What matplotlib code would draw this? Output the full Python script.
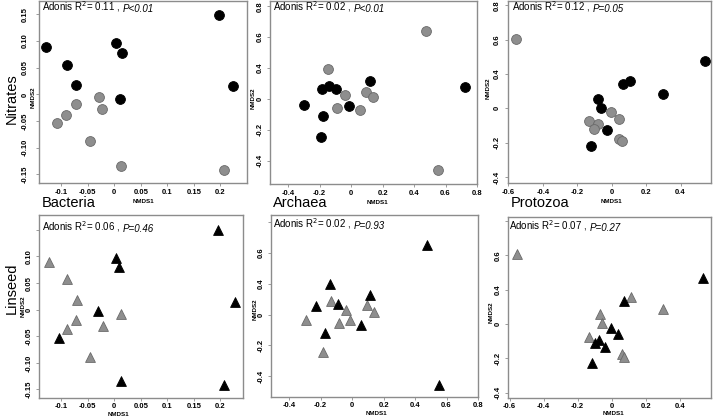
import matplotlib
matplotlib.use("Agg")
import matplotlib.pyplot as plt

# ---- data (NMDS coordinates) ----
groups = ["Bacteria", "Archaea", "Protozoa"]
diets = ["Nitrates", "Linseed"]

adonis_r2 = ["0.11", "0.02", "0.12", "0.06", "0.02", "0.07"]
adonis_p = ["P<0.01", "P<0.01", "P=0.05", "P=0.46", "P=0.93", "P=0.27"]

# Bacteria / Nitrates
bac_nit_black_x = [-0.129, -0.090, -0.072, 0.003, 0.014, 0.011, 0.197, 0.224]
bac_nit_black_y = [0.088, 0.056, 0.018, 0.097, 0.078, -0.008, 0.149, 0.016]
bac_nit_grey_x = [-0.109, -0.091, -0.072, -0.029, -0.024, -0.046, 0.012, 0.206]
bac_nit_grey_y = [-0.054, -0.038, -0.018, -0.005, -0.028, -0.088, -0.134, -0.141]

# Archaea / Nitrates
arc_nit_black_x = [-0.299, -0.183, -0.141, -0.095, 0.120, -0.015, -0.181, -0.189, 0.726]
arc_nit_black_y = [-0.041, 0.065, 0.084, 0.065, 0.114, -0.045, -0.112, -0.245, 0.075]
arc_nit_grey_x = [-0.147, -0.042, -0.091, 0.095, 0.141, 0.053, 0.474, 0.552]
arc_nit_grey_y = [0.191, 0.026, -0.056, 0.045, 0.011, -0.071, 0.439, -0.458]

# Protozoa / Nitrates
pro_nit_black_x = [-0.078, -0.062, 0.068, 0.107, 0.301, 0.540, -0.029, -0.120]
pro_nit_black_y = [0.056, 0.004, 0.139, 0.159, 0.083, 0.273, -0.126, -0.217]
pro_nit_grey_x = [-0.553, -0.132, -0.082, -0.101, -0.006, 0.043, 0.043, 0.058]
pro_nit_grey_y = [0.406, -0.073, -0.089, -0.120, -0.023, -0.060, -0.178, -0.190]

# Bacteria / Linseed
bac_lin_black_x = [0.196, 0.003, 0.009, -0.030, -0.104, 0.013, 0.228, 0.208]
bac_lin_black_y = [0.149, 0.097, 0.080, -0.003, -0.053, -0.134, 0.014, -0.141]
bac_lin_grey_x = [-0.124, -0.089, -0.070, -0.072, -0.089, -0.022, 0.012, -0.045]
bac_lin_grey_y = [0.089, 0.058, 0.018, -0.019, -0.036, -0.030, -0.009, -0.088]

# Archaea / Linseed
arc_lin_black_x = [0.478, 0.552, -0.143, -0.232, -0.091, 0.114, 0.057, -0.175]
arc_lin_black_y = [0.452, -0.461, 0.198, 0.057, 0.067, 0.126, -0.070, -0.120]
arc_lin_grey_x = [-0.295, -0.133, -0.038, -0.086, -0.011, 0.095, 0.137, -0.185]
arc_lin_grey_y = [-0.037, 0.089, 0.028, -0.054, -0.037, 0.061, 0.017, -0.243]

# Protozoa / Linseed
pro_lin_black_x = [0.073, -0.004, 0.035, -0.077, -0.100, -0.038, -0.119, 0.535]
pro_lin_black_y = [0.135, -0.025, -0.058, -0.093, -0.112, -0.135, -0.228, 0.267]
pro_lin_grey_x = [-0.558, 0.110, 0.298, -0.071, -0.058, -0.135, 0.062, 0.071]
pro_lin_grey_y = [0.410, 0.155, 0.087, 0.058, 0.004, -0.077, -0.174, -0.190]

# tick values and their printed labels
bac_x_ticks = [-0.1, -0.05, 0, 0.05, 0.1, 0.15, 0.2]
bac_x_labels = ["-0.1", "-0.05", "0", "0.05", "0.1", "0.15", "0.2"]
bac_y_ticks = [-0.15, -0.10, -0.05, 0, 0.05, 0.10, 0.15]
bac_y_labels_top = ["-0.15", "-0.10", "-0.05", "0", "0.05", "0.10", "0.15"]
bac_y_labels_bottom = ["-0.15", "-0.10", "-0.05", "0", "0.05", "0.10", ""]
arc_x_ticks = [-0.4, -0.2, 0, 0.2, 0.4, 0.6, 0.8]
arc_x_labels = ["-0.4", "-0.2", "0", "0.2", "0.4", "0.6", "0.8"]
pro_x_ticks = [-0.6, -0.4, -0.2, 0, 0.2, 0.4]
pro_x_labels = ["-0.6", "-0.4", "-0.2", "0", "0.2", "0.4"]
ord_y_ticks = [-0.4, -0.2, 0, 0.2, 0.4, 0.6]
ord_y_labels_top = ["-0.4", "-0.2", "0", "0.4", "0.6", "0.8"]
ord_y_labels_bottom = ["-0.4", "-0.2", "0", "0.4", "0.6", ""]

W, H = 715, 419
FRAME = "#8c8c8c"
GREY = "#8e8e8e"

panels = [
    # pixel box (left, right, top, bottom), limits, data, marker, ticks, label spots
    dict(box=(39, 247, 1, 183), xlim=(-0.142, 0.250), ylim=(-0.166, 0.175),
         black=(bac_nit_black_x, bac_nit_black_y), grey=(bac_nit_grey_x, bac_nit_grey_y),
         marker="o", xt=(bac_x_ticks, bac_x_labels), yt=(bac_y_ticks, bac_y_labels_top),
         ylab=(-0.014, 0.47), xlab=(0.5, -0.09), ypad=5, xpad=1.5, stat=(3, 7)),
    dict(box=(270, 477, 1, 184), xlim=(-0.516, 0.789), ylim=(-0.551, 0.634),
         black=(arc_nit_black_x, arc_nit_black_y), grey=(arc_nit_grey_x, arc_nit_grey_y),
         marker="o", xt=(arc_x_ticks, arc_x_labels), yt=(ord_y_ticks, ord_y_labels_top),
         ylab=(-0.07, 0.47), xlab=(0.52, -0.09), ypad=2, xpad=1.5, stat=(3, 7)),
    dict(box=(508, 711, 1, 183), xlim=(-0.602, 0.577), ylim=(-0.435, 0.625),
         black=(pro_nit_black_x, pro_nit_black_y), grey=(pro_nit_grey_x, pro_nit_grey_y),
         marker="o", xt=(pro_x_ticks, pro_x_labels), yt=(ord_y_ticks, ord_y_labels_top),
         ylab=(-0.086, 0.52), xlab=(0.51, -0.09), ypad=3, xpad=1.5, stat=(4, 7)),
    dict(box=(39, 243, 215, 398), xlim=(-0.142, 0.243), ylim=(-0.166, 0.178),
         black=(bac_lin_black_x, bac_lin_black_y), grey=(bac_lin_grey_x, bac_lin_grey_y),
         marker="^", xt=(bac_x_ticks, bac_x_labels), yt=(bac_y_ticks, bac_y_labels_bottom),
         ylab=(-0.066, 0.5), xlab=(0.39, -0.074), ypad=2, xpad=0.8, stat=(3, 13)),
    dict(box=(271, 478, 215, 397), xlim=(-0.516, 0.794), ylim=(-0.537, 0.648),
         black=(arc_lin_black_x, arc_lin_black_y), grey=(arc_lin_grey_x, arc_lin_grey_y),
         marker="^", xt=(arc_x_ticks, arc_x_labels), yt=(ord_y_ticks, ord_y_labels_bottom),
         ylab=(-0.065, 0.48), xlab=(0.51, -0.078), ypad=2, xpad=0.8, stat=(2, 10)),
    dict(box=(508, 711, 217, 398), xlim=(-0.610, 0.583), ylim=(-0.431, 0.623),
         black=(pro_lin_black_x, pro_lin_black_y), grey=(pro_lin_grey_x, pro_lin_grey_y),
         marker="^", xt=(pro_x_ticks, pro_x_labels), yt=(ord_y_ticks, ord_y_labels_bottom),
         ylab=(-0.071, 0.475), xlab=(0.52, -0.074), ypad=2, xpad=0.8, stat=(1, 10)),
]

tick_font = ["Liberation Sans Narrow", "Liberation Sans"]
stat_font = "Liberation Sans"

fig = plt.figure(figsize=(W / 100, H / 100), dpi=100)

for i, p in enumerate(panels):
    l, r, t, b = p["box"]
    ax = fig.add_axes([l / W, (H - b) / H, (r - l) / W, (b - t) / H])
    ax.scatter(*p["grey"], s=50, marker=p["marker"], color=GREY,
               edgecolors="#6a6a6a", linewidths=0.6, zorder=3)
    ax.scatter(*p["black"], s=50, marker=p["marker"], color="black",
               edgecolors="black", linewidths=0.6, zorder=3)
    ax.set_xlim(*p["xlim"])
    ax.set_ylim(*p["ylim"])

    ax.set_xticks(p["xt"][0])
    ax.set_xticklabels(p["xt"][1], fontsize=5.5, fontweight="bold", family=tick_font)
    ax.set_yticks(p["yt"][0])
    ax.set_yticklabels(p["yt"][1], fontsize=5.5, fontweight="bold", family=tick_font,
                       rotation=90, va="center")
    ax.tick_params(axis="both", direction="out", length=2.5, width=0.6, color=FRAME)
    ax.tick_params(axis="x", pad=p["xpad"])
    ax.tick_params(axis="y", pad=p["ypad"])
    for sp in ax.spines.values():
        sp.set_color(FRAME)
        sp.set_linewidth(1.0)

    ax.set_xlabel("NMDS1", fontsize=4.5, fontweight="bold", family=tick_font)
    ax.xaxis.set_label_coords(*p["xlab"])
    ax.set_ylabel("NMDS2", fontsize=4.5, fontweight="bold", family=tick_font)
    ax.yaxis.set_label_coords(*p["ylab"])

    dx, dy = p["stat"]
    t1 = ax.annotate(f"Adonis R$^2$= {adonis_r2[i]} ,", xy=(0, 1), xycoords="axes fraction",
                     xytext=(dx * 0.72, -dy * 0.72 - 4), textcoords="offset points",
                     fontsize=7, family=stat_font, va="bottom", ha="left")
    ax.annotate(adonis_p[i], xy=(1, 0), xycoords=t1, xytext=(2, 0),
                textcoords="offset points", fontsize=7, family=stat_font,
                style="italic", va="bottom", ha="left")

    if i < 3:
        fig.text((l + 3) / W, 1 - 203 / H, groups[i], fontsize=10.5,
                 family="Liberation Sans", ha="left", va="center")

fig.text(12 / W, 1 - 99 / H, diets[0], fontsize=10.5, family="Liberation Sans",
         rotation=90, ha="center", va="center")
fig.text(12 / W, 1 - 288 / H, diets[1], fontsize=10.5, family="Liberation Sans",
         rotation=90, ha="center", va="center")

fig.savefig("out.png", dpi=100)
